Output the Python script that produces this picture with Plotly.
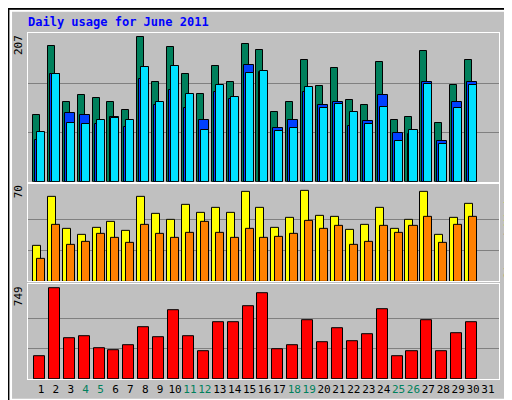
import plotly.graph_objects as go
from plotly.subplots import make_subplots

days = list(range(1, 31))
hits = [93, 190, 112, 121, 117, 111, 100, 203, 140, 188, 150, 123, 162, 140, 192,
        184, 98, 111, 170, 134, 159, 114, 108, 167, 86, 90, 183, 82, 136, 170]
files = [58, 150, 96, 93, 81, 90, 76, 143, 107, 128, 103, 86, 125, 116, 163,
         154, 75, 87, 125, 107, 112, 78, 85, 121, 68, 67, 140, 57, 112, 140]
pages = [69, 150, 82, 81, 87, 89, 86, 161, 112, 162, 123, 72, 136, 118, 152,
         155, 71, 75, 132, 103, 109, 97, 81, 105, 57, 72, 137, 53, 103, 136]
visits = [27, 64, 40, 35, 41, 45, 38, 64, 51, 47, 58, 52, 56, 52, 68,
          56, 41, 48, 69, 50, 49, 39, 43, 56, 40, 47, 68, 35, 48, 59]
sites = [17, 43, 28, 30, 36, 33, 29, 43, 36, 33, 37, 45, 37, 33, 40,
         33, 34, 36, 46, 40, 42, 28, 30, 42, 37, 42, 49, 29, 43, 49]
kbytes = [191, 749, 339, 355, 257, 241, 282, 429, 347, 569, 355, 232, 470, 470, 601,
          708, 249, 282, 487, 306, 421, 314, 372, 577, 191, 232, 487, 232, 380, 470]
weekends = [4, 5, 11, 12, 18, 19, 25, 26]
tick_days = list(range(1, 32))

fig = make_subplots(rows=3, cols=1, shared_xaxes=True, vertical_spacing=0.01)

def bars(x, y, color, offset, width, row):
    fig.add_trace(go.Bar(x=x, y=y, offset=offset, width=width,
                         marker=dict(color=color, line=dict(color="black", width=1))),
                  row=row, col=1)

bars(days, hits, "#00805c", -0.54, 0.47, 1)
bars(days, files, "#0040ff", -0.4, 0.67, 1)
bars(days, pages, "#00e0ff", -0.27, 0.54, 1)
bars(days, visits, "#ffff00", -0.54, 0.54, 2)
bars(days, sites, "#ff8000", -0.27, 0.54, 2)
bars(days, kbytes, "#ff0000", -0.47, 0.74, 3)

ticktext = [f"<span style='color:#00805c'>{d}</span>" if d in weekends else str(d)
            for d in tick_days]

fig.update_layout(
    width=512, height=400, barmode="overlay", showlegend=False,
    paper_bgcolor="#c0c0c0", plot_bgcolor="#c0c0c0",
    margin=dict(l=20, r=21, t=25, b=24),
    font=dict(family="DejaVu Sans Mono", size=11, color="black"),
    bargap=0,
)
fig.update_xaxes(range=[0.13, 31.74], showgrid=False, zeroline=False,
                 showline=True, mirror=True, linecolor="white")
fig.update_xaxes(tickvals=tick_days, ticktext=ticktext, ticks="", tickangle=0,
                 tickfont=dict(size=11), row=3, col=1)
fig.update_yaxes(showticklabels=False, zeroline=False, gridcolor="#808080",
                 showline=True, mirror=True, linecolor="white")
fig.update_yaxes(domain=[0.570, 1.0], range=[0, 208], tickvals=[69, 138], row=1, col=1)
fig.update_yaxes(domain=[0.282, 0.564], range=[0, 74], tickvals=[23.3, 46.7], row=2, col=1)
fig.update_yaxes(domain=[0.0, 0.274], range=[0, 784], tickvals=[250, 500], row=3, col=1)

rx = 1 + 10 / 471
ann = [
    dict(x=0.0, y=1.0, xanchor="left", yanchor="bottom", yshift=2, xshift=-2,
         text="<b>Daily usage for June 2011</b>", font=dict(color="#0000ff", size=12)),
    dict(x=-10 / 471, y=1.0, text="207", yanchor="top", xanchor="center", textangle=-90),
    dict(x=-10 / 471, y=0.564, text="70", yanchor="top", xanchor="center", textangle=-90),
    dict(x=-10 / 471, y=0.274, text="749", yanchor="top", xanchor="center", textangle=-90),
    dict(x=rx, y=0.570, textangle=-90, yanchor="bottom", xanchor="center",
         text="<span style='color:#00e0ff'>Pages</span> / <span style='color:#0040ff'>Files</span>"
              " / <span style='color:#00805c'>Hits</span>"),
    dict(x=rx, y=0.282, textangle=-90, yanchor="bottom", xanchor="center",
         text="<span style='color:#ff8000'>Sites</span> / <span style='color:#ffff00'>Visits</span>"),
    dict(x=rx, y=0.0, textangle=-90, yanchor="bottom", xanchor="center",
         text="<span style='color:#ff0000'>KBytes</span>"),
]
for a in ann:
    a["xref"] = "paper"
    a["yref"] = "paper"
    a["showarrow"] = False
fig.update_layout(annotations=ann)

fig.add_shape(type="rect", xref="paper", yref="paper", x0=-0.036, x1=1.040,
              y0=-0.060, y1=1.064, line=dict(color="white", width=2))
fig.add_shape(type="rect", xref="paper", yref="paper", x0=-0.042, x1=1.044,
              y0=-0.068, y1=1.070, line=dict(color="black", width=2))

fig.write_html("out.html")
